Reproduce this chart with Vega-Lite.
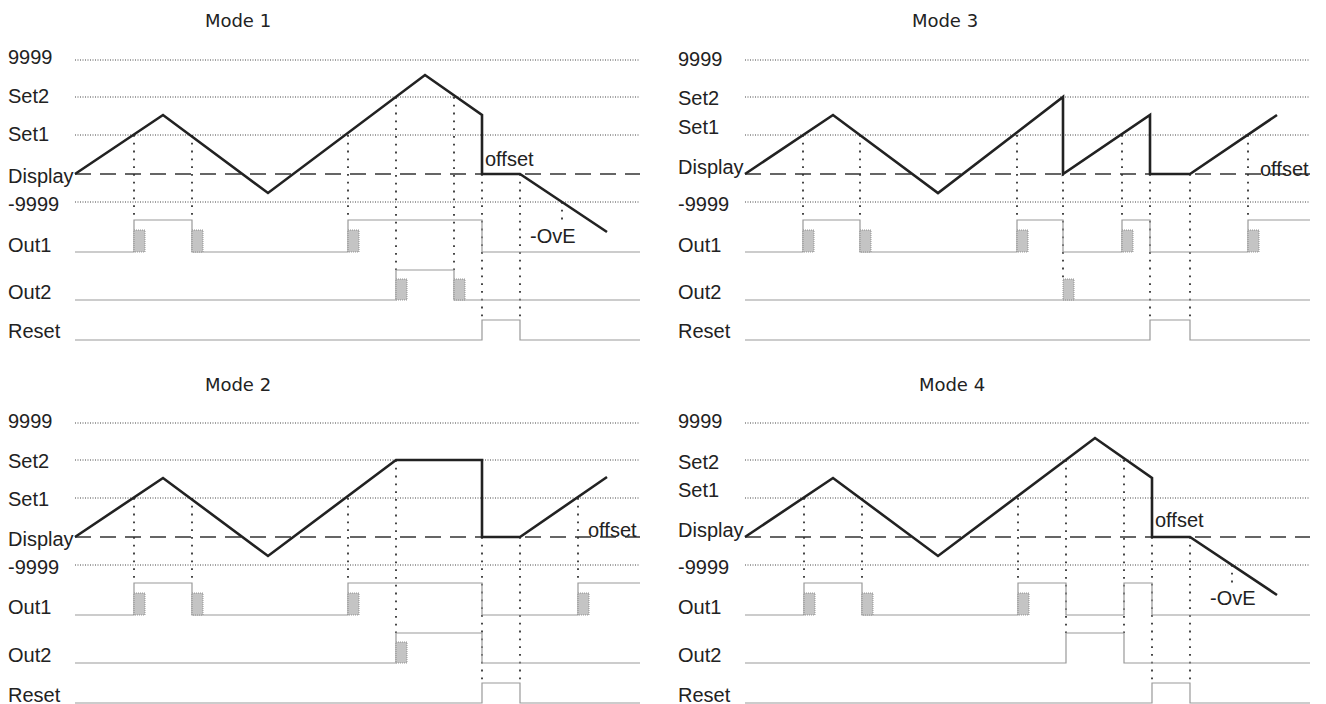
{
"$schema":"https://vega.github.io/schema/vega-lite/v6.json",
"padding":0,
"background":"white",
"config":{"view":{"stroke":null}},
"datasets":{"d":[
{"p":"Mode 1","k":"lv","x":0,"x2":565,"y":114},{"p":"Mode 1","k":"lv","x":0,"x2":565,"y":77},{"p":"Mode 1","k":"lv","x":0,"x2":565,"y":39},{"p":"Mode 1","k":"lv","x":0,"x2":565,"y":-28},
{"p":"Mode 1","k":"d","x":0,"x2":565,"y":0},
{"p":"Mode 1","k":"lab","x":-67,"y":116,"t":"9999"},{"p":"Mode 1","k":"lab","x":-67,"y":77,"t":"Set2"},{"p":"Mode 1","k":"lab","x":-67,"y":39,"t":"Set1"},{"p":"Mode 1","k":"lab","x":-67,"y":-3,"t":"Display"},{"p":"Mode 1","k":"lab","x":-67,"y":-31,"t":"-9999"},{"p":"Mode 1","k":"lab","x":-67,"y":-72,"t":"Out1"},{"p":"Mode 1","k":"lab","x":-67,"y":-119,"t":"Out2"},{"p":"Mode 1","k":"lab","x":-67,"y":-158,"t":"Reset"},
{"p":"Mode 1","k":"ttl","x":163,"y":152,"t":"Mode 1"},
{"p":"Mode 1","k":"ann","x":410,"y":14,"t":"offset"},{"p":"Mode 1","k":"ann","x":455,"y":-63,"t":"-OvE"},
{"p":"Mode 1","k":"w","x":0,"y":0,"o":0},{"p":"Mode 1","k":"w","x":88,"y":59,"o":1},{"p":"Mode 1","k":"w","x":193,"y":-19,"o":2},{"p":"Mode 1","k":"w","x":350,"y":99,"o":3},{"p":"Mode 1","k":"w","x":407,"y":59,"o":4},{"p":"Mode 1","k":"w","x":407,"y":0,"o":5},{"p":"Mode 1","k":"w","x":445,"y":0,"o":6},{"p":"Mode 1","k":"w","x":532,"y":-58,"o":7},
{"p":"Mode 1","k":"s","s":"Out1","x":0,"y":-78,"o":0},{"p":"Mode 1","k":"s","s":"Out1","x":59,"y":-78,"o":1},{"p":"Mode 1","k":"s","s":"Out1","x":59,"y":-46,"o":2},{"p":"Mode 1","k":"s","s":"Out1","x":117,"y":-46,"o":3},{"p":"Mode 1","k":"s","s":"Out1","x":117,"y":-78,"o":4},{"p":"Mode 1","k":"s","s":"Out1","x":273,"y":-78,"o":5},{"p":"Mode 1","k":"s","s":"Out1","x":273,"y":-46,"o":6},{"p":"Mode 1","k":"s","s":"Out1","x":407,"y":-46,"o":7},{"p":"Mode 1","k":"s","s":"Out1","x":407,"y":-78,"o":8},{"p":"Mode 1","k":"s","s":"Out1","x":565,"y":-78,"o":9},
{"p":"Mode 1","k":"s","s":"Out2","x":0,"y":-126,"o":0},{"p":"Mode 1","k":"s","s":"Out2","x":321,"y":-126,"o":1},{"p":"Mode 1","k":"s","s":"Out2","x":321,"y":-96,"o":2},{"p":"Mode 1","k":"s","s":"Out2","x":379,"y":-96,"o":3},{"p":"Mode 1","k":"s","s":"Out2","x":379,"y":-126,"o":4},{"p":"Mode 1","k":"s","s":"Out2","x":565,"y":-126,"o":5},
{"p":"Mode 1","k":"s","s":"Reset","x":0,"y":-166,"o":0},{"p":"Mode 1","k":"s","s":"Reset","x":407,"y":-166,"o":1},{"p":"Mode 1","k":"s","s":"Reset","x":407,"y":-146,"o":2},{"p":"Mode 1","k":"s","s":"Reset","x":445,"y":-146,"o":3},{"p":"Mode 1","k":"s","s":"Reset","x":445,"y":-166,"o":4},{"p":"Mode 1","k":"s","s":"Reset","x":565,"y":-166,"o":5},
{"p":"Mode 1","k":"st","x":59,"x2":70,"y":-78,"y2":-56},{"p":"Mode 1","k":"st","x":117,"x2":128,"y":-78,"y2":-56},{"p":"Mode 1","k":"st","x":273,"x2":284,"y":-78,"y2":-56},{"p":"Mode 1","k":"st","x":321,"x2":332,"y":-126,"y2":-105},{"p":"Mode 1","k":"st","x":379,"x2":390,"y":-126,"y2":-105},
{"p":"Mode 1","k":"v","x":59,"y":39,"y2":-46},{"p":"Mode 1","k":"v","x":117,"y":39,"y2":-46},{"p":"Mode 1","k":"v","x":273,"y":39,"y2":-46},{"p":"Mode 1","k":"v","x":321,"y":77,"y2":-96},{"p":"Mode 1","k":"v","x":379,"y":77,"y2":-96},{"p":"Mode 1","k":"v","x":407,"y":0,"y2":-146},{"p":"Mode 1","k":"v","x":445,"y":0,"y2":-146},{"p":"Mode 1","k":"v","x":487,"y":-28,"y2":-50},

{"p":"Mode 2","k":"lv","x":0,"x2":565,"y":114},{"p":"Mode 2","k":"lv","x":0,"x2":565,"y":77},{"p":"Mode 2","k":"lv","x":0,"x2":565,"y":39},{"p":"Mode 2","k":"lv","x":0,"x2":565,"y":-28},
{"p":"Mode 2","k":"d","x":0,"x2":565,"y":0},
{"p":"Mode 2","k":"lab","x":-67,"y":115,"t":"9999"},{"p":"Mode 2","k":"lab","x":-67,"y":75,"t":"Set2"},{"p":"Mode 2","k":"lab","x":-67,"y":37,"t":"Set1"},{"p":"Mode 2","k":"lab","x":-67,"y":-3,"t":"Display"},{"p":"Mode 2","k":"lab","x":-67,"y":-31,"t":"-9999"},{"p":"Mode 2","k":"lab","x":-67,"y":-71,"t":"Out1"},{"p":"Mode 2","k":"lab","x":-67,"y":-119,"t":"Out2"},{"p":"Mode 2","k":"lab","x":-67,"y":-159,"t":"Reset"},
{"p":"Mode 2","k":"ttl","x":163,"y":151,"t":"Mode 2"},
{"p":"Mode 2","k":"ann","x":513,"y":6,"t":"offset"},
{"p":"Mode 2","k":"w","x":0,"y":0,"o":0},{"p":"Mode 2","k":"w","x":88,"y":59,"o":1},{"p":"Mode 2","k":"w","x":193,"y":-19,"o":2},{"p":"Mode 2","k":"w","x":321,"y":77,"o":3},{"p":"Mode 2","k":"w","x":407,"y":77,"o":4},{"p":"Mode 2","k":"w","x":407,"y":0,"o":5},{"p":"Mode 2","k":"w","x":445,"y":0,"o":6},{"p":"Mode 2","k":"w","x":532,"y":60,"o":7},
{"p":"Mode 2","k":"s","s":"Out1","x":0,"y":-78,"o":0},{"p":"Mode 2","k":"s","s":"Out1","x":59,"y":-78,"o":1},{"p":"Mode 2","k":"s","s":"Out1","x":59,"y":-46,"o":2},{"p":"Mode 2","k":"s","s":"Out1","x":117,"y":-46,"o":3},{"p":"Mode 2","k":"s","s":"Out1","x":117,"y":-78,"o":4},{"p":"Mode 2","k":"s","s":"Out1","x":273,"y":-78,"o":5},{"p":"Mode 2","k":"s","s":"Out1","x":273,"y":-46,"o":6},{"p":"Mode 2","k":"s","s":"Out1","x":407,"y":-46,"o":7},{"p":"Mode 2","k":"s","s":"Out1","x":407,"y":-78,"o":8},{"p":"Mode 2","k":"s","s":"Out1","x":503,"y":-78,"o":9},{"p":"Mode 2","k":"s","s":"Out1","x":503,"y":-46,"o":10},{"p":"Mode 2","k":"s","s":"Out1","x":565,"y":-46,"o":11},
{"p":"Mode 2","k":"s","s":"Out2","x":0,"y":-126,"o":0},{"p":"Mode 2","k":"s","s":"Out2","x":321,"y":-126,"o":1},{"p":"Mode 2","k":"s","s":"Out2","x":321,"y":-96,"o":2},{"p":"Mode 2","k":"s","s":"Out2","x":407,"y":-96,"o":3},{"p":"Mode 2","k":"s","s":"Out2","x":407,"y":-126,"o":4},{"p":"Mode 2","k":"s","s":"Out2","x":565,"y":-126,"o":5},
{"p":"Mode 2","k":"s","s":"Reset","x":0,"y":-166,"o":0},{"p":"Mode 2","k":"s","s":"Reset","x":407,"y":-166,"o":1},{"p":"Mode 2","k":"s","s":"Reset","x":407,"y":-146,"o":2},{"p":"Mode 2","k":"s","s":"Reset","x":445,"y":-146,"o":3},{"p":"Mode 2","k":"s","s":"Reset","x":445,"y":-166,"o":4},{"p":"Mode 2","k":"s","s":"Reset","x":565,"y":-166,"o":5},
{"p":"Mode 2","k":"st","x":59,"x2":70,"y":-78,"y2":-56},{"p":"Mode 2","k":"st","x":117,"x2":128,"y":-78,"y2":-56},{"p":"Mode 2","k":"st","x":273,"x2":284,"y":-78,"y2":-56},{"p":"Mode 2","k":"st","x":503,"x2":514,"y":-78,"y2":-56},{"p":"Mode 2","k":"st","x":321,"x2":332,"y":-126,"y2":-105},
{"p":"Mode 2","k":"v","x":59,"y":39,"y2":-46},{"p":"Mode 2","k":"v","x":117,"y":39,"y2":-46},{"p":"Mode 2","k":"v","x":273,"y":39,"y2":-46},{"p":"Mode 2","k":"v","x":321,"y":77,"y2":-96},{"p":"Mode 2","k":"v","x":407,"y":0,"y2":-146},{"p":"Mode 2","k":"v","x":445,"y":0,"y2":-146},{"p":"Mode 2","k":"v","x":503,"y":39,"y2":-46},

{"p":"Mode 3","k":"lv","x":0,"x2":565,"y":114},{"p":"Mode 3","k":"lv","x":0,"x2":565,"y":77},{"p":"Mode 3","k":"lv","x":0,"x2":565,"y":39},{"p":"Mode 3","k":"lv","x":0,"x2":565,"y":-28},
{"p":"Mode 3","k":"d","x":0,"x2":565,"y":0},
{"p":"Mode 3","k":"lab","x":-67,"y":114,"t":"9999"},{"p":"Mode 3","k":"lab","x":-67,"y":75,"t":"Set2"},{"p":"Mode 3","k":"lab","x":-67,"y":46,"t":"Set1"},{"p":"Mode 3","k":"lab","x":-67,"y":6,"t":"Display"},{"p":"Mode 3","k":"lab","x":-67,"y":-31,"t":"-9999"},{"p":"Mode 3","k":"lab","x":-67,"y":-72,"t":"Out1"},{"p":"Mode 3","k":"lab","x":-67,"y":-119,"t":"Out2"},{"p":"Mode 3","k":"lab","x":-67,"y":-158,"t":"Reset"},
{"p":"Mode 3","k":"ttl","x":200,"y":152,"t":"Mode 3"},
{"p":"Mode 3","k":"ann","x":515,"y":4,"t":"offset"},
{"p":"Mode 3","k":"w","x":0,"y":0,"o":0},{"p":"Mode 3","k":"w","x":88,"y":59,"o":1},{"p":"Mode 3","k":"w","x":193,"y":-19,"o":2},{"p":"Mode 3","k":"w","x":318,"y":77,"o":3},{"p":"Mode 3","k":"w","x":318,"y":0,"o":4},{"p":"Mode 3","k":"w","x":405,"y":59,"o":5},{"p":"Mode 3","k":"w","x":405,"y":0,"o":6},{"p":"Mode 3","k":"w","x":445,"y":0,"o":7},{"p":"Mode 3","k":"w","x":532,"y":59,"o":8},
{"p":"Mode 3","k":"s","s":"Out1","x":0,"y":-78,"o":0},{"p":"Mode 3","k":"s","s":"Out1","x":58,"y":-78,"o":1},{"p":"Mode 3","k":"s","s":"Out1","x":58,"y":-46,"o":2},{"p":"Mode 3","k":"s","s":"Out1","x":115,"y":-46,"o":3},{"p":"Mode 3","k":"s","s":"Out1","x":115,"y":-78,"o":4},{"p":"Mode 3","k":"s","s":"Out1","x":272,"y":-78,"o":5},{"p":"Mode 3","k":"s","s":"Out1","x":272,"y":-46,"o":6},{"p":"Mode 3","k":"s","s":"Out1","x":318,"y":-46,"o":7},{"p":"Mode 3","k":"s","s":"Out1","x":318,"y":-78,"o":8},{"p":"Mode 3","k":"s","s":"Out1","x":377,"y":-78,"o":9},{"p":"Mode 3","k":"s","s":"Out1","x":377,"y":-46,"o":10},{"p":"Mode 3","k":"s","s":"Out1","x":405,"y":-46,"o":11},{"p":"Mode 3","k":"s","s":"Out1","x":405,"y":-78,"o":12},{"p":"Mode 3","k":"s","s":"Out1","x":503,"y":-78,"o":13},{"p":"Mode 3","k":"s","s":"Out1","x":503,"y":-46,"o":14},{"p":"Mode 3","k":"s","s":"Out1","x":565,"y":-46,"o":15},
{"p":"Mode 3","k":"s","s":"Out2","x":0,"y":-126,"o":0},{"p":"Mode 3","k":"s","s":"Out2","x":565,"y":-126,"o":1},
{"p":"Mode 3","k":"s","s":"Reset","x":0,"y":-166,"o":0},{"p":"Mode 3","k":"s","s":"Reset","x":405,"y":-166,"o":1},{"p":"Mode 3","k":"s","s":"Reset","x":405,"y":-146,"o":2},{"p":"Mode 3","k":"s","s":"Reset","x":445,"y":-146,"o":3},{"p":"Mode 3","k":"s","s":"Reset","x":445,"y":-166,"o":4},{"p":"Mode 3","k":"s","s":"Reset","x":565,"y":-166,"o":5},
{"p":"Mode 3","k":"st","x":58,"x2":69,"y":-78,"y2":-56},{"p":"Mode 3","k":"st","x":115,"x2":126,"y":-78,"y2":-56},{"p":"Mode 3","k":"st","x":272,"x2":283,"y":-78,"y2":-56},{"p":"Mode 3","k":"st","x":377,"x2":388,"y":-78,"y2":-56},{"p":"Mode 3","k":"st","x":503,"x2":514,"y":-78,"y2":-56},{"p":"Mode 3","k":"st","x":318,"x2":329,"y":-126,"y2":-105},
{"p":"Mode 3","k":"v","x":58,"y":39,"y2":-46},{"p":"Mode 3","k":"v","x":115,"y":39,"y2":-46},{"p":"Mode 3","k":"v","x":272,"y":39,"y2":-46},{"p":"Mode 3","k":"v","x":318,"y":0,"y2":-105},{"p":"Mode 3","k":"v","x":377,"y":39,"y2":-46},{"p":"Mode 3","k":"v","x":405,"y":0,"y2":-146},{"p":"Mode 3","k":"v","x":445,"y":0,"y2":-146},{"p":"Mode 3","k":"v","x":503,"y":39,"y2":-46},

{"p":"Mode 4","k":"lv","x":0,"x2":565,"y":114},{"p":"Mode 4","k":"lv","x":0,"x2":565,"y":77},{"p":"Mode 4","k":"lv","x":0,"x2":565,"y":39},{"p":"Mode 4","k":"lv","x":0,"x2":565,"y":-28},
{"p":"Mode 4","k":"d","x":0,"x2":565,"y":0},
{"p":"Mode 4","k":"lab","x":-67,"y":115,"t":"9999"},{"p":"Mode 4","k":"lab","x":-67,"y":74,"t":"Set2"},{"p":"Mode 4","k":"lab","x":-67,"y":46,"t":"Set1"},{"p":"Mode 4","k":"lab","x":-67,"y":6,"t":"Display"},{"p":"Mode 4","k":"lab","x":-67,"y":-31,"t":"-9999"},{"p":"Mode 4","k":"lab","x":-67,"y":-71,"t":"Out1"},{"p":"Mode 4","k":"lab","x":-67,"y":-119,"t":"Out2"},{"p":"Mode 4","k":"lab","x":-67,"y":-159,"t":"Reset"},
{"p":"Mode 4","k":"ttl","x":207,"y":151,"t":"Mode 4"},
{"p":"Mode 4","k":"ann","x":410,"y":16,"t":"offset"},{"p":"Mode 4","k":"ann","x":465,"y":-62,"t":"-OvE"},
{"p":"Mode 4","k":"w","x":0,"y":0,"o":0},{"p":"Mode 4","k":"w","x":88,"y":59,"o":1},{"p":"Mode 4","k":"w","x":193,"y":-19,"o":2},{"p":"Mode 4","k":"w","x":350,"y":99,"o":3},{"p":"Mode 4","k":"w","x":407,"y":59,"o":4},{"p":"Mode 4","k":"w","x":407,"y":0,"o":5},{"p":"Mode 4","k":"w","x":445,"y":0,"o":6},{"p":"Mode 4","k":"w","x":532,"y":-58,"o":7},
{"p":"Mode 4","k":"s","s":"Out1","x":0,"y":-78,"o":0},{"p":"Mode 4","k":"s","s":"Out1","x":59,"y":-78,"o":1},{"p":"Mode 4","k":"s","s":"Out1","x":59,"y":-46,"o":2},{"p":"Mode 4","k":"s","s":"Out1","x":117,"y":-46,"o":3},{"p":"Mode 4","k":"s","s":"Out1","x":117,"y":-78,"o":4},{"p":"Mode 4","k":"s","s":"Out1","x":273,"y":-78,"o":5},{"p":"Mode 4","k":"s","s":"Out1","x":273,"y":-46,"o":6},{"p":"Mode 4","k":"s","s":"Out1","x":321,"y":-46,"o":7},{"p":"Mode 4","k":"s","s":"Out1","x":321,"y":-78,"o":8},{"p":"Mode 4","k":"s","s":"Out1","x":379,"y":-78,"o":9},{"p":"Mode 4","k":"s","s":"Out1","x":379,"y":-46,"o":10},{"p":"Mode 4","k":"s","s":"Out1","x":407,"y":-46,"o":11},{"p":"Mode 4","k":"s","s":"Out1","x":407,"y":-78,"o":12},{"p":"Mode 4","k":"s","s":"Out1","x":565,"y":-78,"o":13},
{"p":"Mode 4","k":"s","s":"Out2","x":0,"y":-126,"o":0},{"p":"Mode 4","k":"s","s":"Out2","x":321,"y":-126,"o":1},{"p":"Mode 4","k":"s","s":"Out2","x":321,"y":-96,"o":2},{"p":"Mode 4","k":"s","s":"Out2","x":379,"y":-96,"o":3},{"p":"Mode 4","k":"s","s":"Out2","x":379,"y":-126,"o":4},{"p":"Mode 4","k":"s","s":"Out2","x":565,"y":-126,"o":5},
{"p":"Mode 4","k":"s","s":"Reset","x":0,"y":-166,"o":0},{"p":"Mode 4","k":"s","s":"Reset","x":407,"y":-166,"o":1},{"p":"Mode 4","k":"s","s":"Reset","x":407,"y":-146,"o":2},{"p":"Mode 4","k":"s","s":"Reset","x":445,"y":-146,"o":3},{"p":"Mode 4","k":"s","s":"Reset","x":445,"y":-166,"o":4},{"p":"Mode 4","k":"s","s":"Reset","x":565,"y":-166,"o":5},
{"p":"Mode 4","k":"st","x":59,"x2":70,"y":-78,"y2":-56},{"p":"Mode 4","k":"st","x":117,"x2":128,"y":-78,"y2":-56},{"p":"Mode 4","k":"st","x":273,"x2":284,"y":-78,"y2":-56},
{"p":"Mode 4","k":"v","x":59,"y":39,"y2":-46},{"p":"Mode 4","k":"v","x":117,"y":39,"y2":-46},{"p":"Mode 4","k":"v","x":273,"y":39,"y2":-46},{"p":"Mode 4","k":"v","x":321,"y":77,"y2":-96},{"p":"Mode 4","k":"v","x":379,"y":77,"y2":-96},{"p":"Mode 4","k":"v","x":407,"y":0,"y2":-146},{"p":"Mode 4","k":"v","x":445,"y":0,"y2":-146},{"p":"Mode 4","k":"v","x":487,"y":-28,"y2":-50}
]},
"columns":2,
"spacing":{"row":20,"column":15},
"concat":[
{"data":{"name":"d"},"transform":[{"filter":"datum.p==='Mode 1'"}],"width":655,"height":342,
"layer":[
{"transform":[{"filter":"datum.k==='lv'"}],"mark":{"type":"rule","color":"#444","strokeWidth":1,"strokeDash":[1,1.5]},"encoding":{"x":{"field":"x","type":"quantitative","scale":{"domain":[-75,580],"nice":false,"zero":false},"axis":null},"x2":{"field":"x2"},"y":{"field":"y","type":"quantitative","scale":{"domain":[-168,174],"nice":false,"zero":false},"axis":null}}},
{"transform":[{"filter":"datum.k==='d'"}],"mark":{"type":"rule","color":"#333","strokeWidth":1.6,"strokeDash":[16,9]},"encoding":{"x":{"field":"x","type":"quantitative"},"x2":{"field":"x2"},"y":{"field":"y","type":"quantitative"}}},
{"transform":[{"filter":"datum.k==='v'"}],"mark":{"type":"rule","color":"#333","strokeWidth":1.8,"strokeDash":[1.8,6]},"encoding":{"x":{"field":"x","type":"quantitative"},"y":{"field":"y","type":"quantitative"},"y2":{"field":"y2"}}},
{"transform":[{"filter":"datum.k==='s'"}],"mark":{"type":"line","color":"#999","strokeWidth":1.2},"encoding":{"x":{"field":"x","type":"quantitative"},"y":{"field":"y","type":"quantitative"},"detail":{"field":"s"},"order":{"field":"o","type":"quantitative"}}},
{"transform":[{"filter":"datum.k==='st'"}],"mark":{"type":"rect","fill":"#c4c4c4","stroke":"#808080","strokeWidth":0.8,"strokeDash":[1,1]},"encoding":{"x":{"field":"x","type":"quantitative"},"x2":{"field":"x2"},"y":{"field":"y","type":"quantitative"},"y2":{"field":"y2"}}},
{"transform":[{"filter":"datum.k==='w'"}],"mark":{"type":"line","color":"#222","strokeWidth":2.6,"strokeJoin":"miter"},"encoding":{"x":{"field":"x","type":"quantitative"},"y":{"field":"y","type":"quantitative"},"order":{"field":"o","type":"quantitative"}}},
{"transform":[{"filter":"datum.k==='lab' || datum.k==='ann'"}],"mark":{"type":"text","align":"left","baseline":"middle","font":"Liberation Sans","fontSize":20,"color":"#222"},"encoding":{"x":{"field":"x","type":"quantitative"},"y":{"field":"y","type":"quantitative"},"text":{"field":"t"}}},
{"transform":[{"filter":"datum.k==='ttl'"}],"mark":{"type":"text","align":"center","baseline":"middle","font":"DejaVu Sans","fontSize":18,"color":"#222"},"encoding":{"x":{"field":"x","type":"quantitative"},"y":{"field":"y","type":"quantitative"},"text":{"field":"t"}}}
]},
{"data":{"name":"d"},"transform":[{"filter":"datum.p==='Mode 3'"}],"width":655,"height":342,
"layer":[
{"transform":[{"filter":"datum.k==='lv'"}],"mark":{"type":"rule","color":"#444","strokeWidth":1,"strokeDash":[1,1.5]},"encoding":{"x":{"field":"x","type":"quantitative","scale":{"domain":[-75,580],"nice":false,"zero":false},"axis":null},"x2":{"field":"x2"},"y":{"field":"y","type":"quantitative","scale":{"domain":[-168,174],"nice":false,"zero":false},"axis":null}}},
{"transform":[{"filter":"datum.k==='d'"}],"mark":{"type":"rule","color":"#333","strokeWidth":1.6,"strokeDash":[16,9]},"encoding":{"x":{"field":"x","type":"quantitative"},"x2":{"field":"x2"},"y":{"field":"y","type":"quantitative"}}},
{"transform":[{"filter":"datum.k==='v'"}],"mark":{"type":"rule","color":"#333","strokeWidth":1.8,"strokeDash":[1.8,6]},"encoding":{"x":{"field":"x","type":"quantitative"},"y":{"field":"y","type":"quantitative"},"y2":{"field":"y2"}}},
{"transform":[{"filter":"datum.k==='s'"}],"mark":{"type":"line","color":"#999","strokeWidth":1.2},"encoding":{"x":{"field":"x","type":"quantitative"},"y":{"field":"y","type":"quantitative"},"detail":{"field":"s"},"order":{"field":"o","type":"quantitative"}}},
{"transform":[{"filter":"datum.k==='st'"}],"mark":{"type":"rect","fill":"#c4c4c4","stroke":"#808080","strokeWidth":0.8,"strokeDash":[1,1]},"encoding":{"x":{"field":"x","type":"quantitative"},"x2":{"field":"x2"},"y":{"field":"y","type":"quantitative"},"y2":{"field":"y2"}}},
{"transform":[{"filter":"datum.k==='w'"}],"mark":{"type":"line","color":"#222","strokeWidth":2.6,"strokeJoin":"miter"},"encoding":{"x":{"field":"x","type":"quantitative"},"y":{"field":"y","type":"quantitative"},"order":{"field":"o","type":"quantitative"}}},
{"transform":[{"filter":"datum.k==='lab' || datum.k==='ann'"}],"mark":{"type":"text","align":"left","baseline":"middle","font":"Liberation Sans","fontSize":20,"color":"#222"},"encoding":{"x":{"field":"x","type":"quantitative"},"y":{"field":"y","type":"quantitative"},"text":{"field":"t"}}},
{"transform":[{"filter":"datum.k==='ttl'"}],"mark":{"type":"text","align":"center","baseline":"middle","font":"DejaVu Sans","fontSize":18,"color":"#222"},"encoding":{"x":{"field":"x","type":"quantitative"},"y":{"field":"y","type":"quantitative"},"text":{"field":"t"}}}
]},
{"data":{"name":"d"},"transform":[{"filter":"datum.p==='Mode 2'"}],"width":655,"height":342,
"layer":[
{"transform":[{"filter":"datum.k==='lv'"}],"mark":{"type":"rule","color":"#444","strokeWidth":1,"strokeDash":[1,1.5]},"encoding":{"x":{"field":"x","type":"quantitative","scale":{"domain":[-75,580],"nice":false,"zero":false},"axis":null},"x2":{"field":"x2"},"y":{"field":"y","type":"quantitative","scale":{"domain":[-168,174],"nice":false,"zero":false},"axis":null}}},
{"transform":[{"filter":"datum.k==='d'"}],"mark":{"type":"rule","color":"#333","strokeWidth":1.6,"strokeDash":[16,9]},"encoding":{"x":{"field":"x","type":"quantitative"},"x2":{"field":"x2"},"y":{"field":"y","type":"quantitative"}}},
{"transform":[{"filter":"datum.k==='v'"}],"mark":{"type":"rule","color":"#333","strokeWidth":1.8,"strokeDash":[1.8,6]},"encoding":{"x":{"field":"x","type":"quantitative"},"y":{"field":"y","type":"quantitative"},"y2":{"field":"y2"}}},
{"transform":[{"filter":"datum.k==='s'"}],"mark":{"type":"line","color":"#999","strokeWidth":1.2},"encoding":{"x":{"field":"x","type":"quantitative"},"y":{"field":"y","type":"quantitative"},"detail":{"field":"s"},"order":{"field":"o","type":"quantitative"}}},
{"transform":[{"filter":"datum.k==='st'"}],"mark":{"type":"rect","fill":"#c4c4c4","stroke":"#808080","strokeWidth":0.8,"strokeDash":[1,1]},"encoding":{"x":{"field":"x","type":"quantitative"},"x2":{"field":"x2"},"y":{"field":"y","type":"quantitative"},"y2":{"field":"y2"}}},
{"transform":[{"filter":"datum.k==='w'"}],"mark":{"type":"line","color":"#222","strokeWidth":2.6,"strokeJoin":"miter"},"encoding":{"x":{"field":"x","type":"quantitative"},"y":{"field":"y","type":"quantitative"},"order":{"field":"o","type":"quantitative"}}},
{"transform":[{"filter":"datum.k==='lab' || datum.k==='ann'"}],"mark":{"type":"text","align":"left","baseline":"middle","font":"Liberation Sans","fontSize":20,"color":"#222"},"encoding":{"x":{"field":"x","type":"quantitative"},"y":{"field":"y","type":"quantitative"},"text":{"field":"t"}}},
{"transform":[{"filter":"datum.k==='ttl'"}],"mark":{"type":"text","align":"center","baseline":"middle","font":"DejaVu Sans","fontSize":18,"color":"#222"},"encoding":{"x":{"field":"x","type":"quantitative"},"y":{"field":"y","type":"quantitative"},"text":{"field":"t"}}}
]},
{"data":{"name":"d"},"transform":[{"filter":"datum.p==='Mode 4'"}],"width":655,"height":342,
"layer":[
{"transform":[{"filter":"datum.k==='lv'"}],"mark":{"type":"rule","color":"#444","strokeWidth":1,"strokeDash":[1,1.5]},"encoding":{"x":{"field":"x","type":"quantitative","scale":{"domain":[-75,580],"nice":false,"zero":false},"axis":null},"x2":{"field":"x2"},"y":{"field":"y","type":"quantitative","scale":{"domain":[-168,174],"nice":false,"zero":false},"axis":null}}},
{"transform":[{"filter":"datum.k==='d'"}],"mark":{"type":"rule","color":"#333","strokeWidth":1.6,"strokeDash":[16,9]},"encoding":{"x":{"field":"x","type":"quantitative"},"x2":{"field":"x2"},"y":{"field":"y","type":"quantitative"}}},
{"transform":[{"filter":"datum.k==='v'"}],"mark":{"type":"rule","color":"#333","strokeWidth":1.8,"strokeDash":[1.8,6]},"encoding":{"x":{"field":"x","type":"quantitative"},"y":{"field":"y","type":"quantitative"},"y2":{"field":"y2"}}},
{"transform":[{"filter":"datum.k==='s'"}],"mark":{"type":"line","color":"#999","strokeWidth":1.2},"encoding":{"x":{"field":"x","type":"quantitative"},"y":{"field":"y","type":"quantitative"},"detail":{"field":"s"},"order":{"field":"o","type":"quantitative"}}},
{"transform":[{"filter":"datum.k==='st'"}],"mark":{"type":"rect","fill":"#c4c4c4","stroke":"#808080","strokeWidth":0.8,"strokeDash":[1,1]},"encoding":{"x":{"field":"x","type":"quantitative"},"x2":{"field":"x2"},"y":{"field":"y","type":"quantitative"},"y2":{"field":"y2"}}},
{"transform":[{"filter":"datum.k==='w'"}],"mark":{"type":"line","color":"#222","strokeWidth":2.6,"strokeJoin":"miter"},"encoding":{"x":{"field":"x","type":"quantitative"},"y":{"field":"y","type":"quantitative"},"order":{"field":"o","type":"quantitative"}}},
{"transform":[{"filter":"datum.k==='lab' || datum.k==='ann'"}],"mark":{"type":"text","align":"left","baseline":"middle","font":"Liberation Sans","fontSize":20,"color":"#222"},"encoding":{"x":{"field":"x","type":"quantitative"},"y":{"field":"y","type":"quantitative"},"text":{"field":"t"}}},
{"transform":[{"filter":"datum.k==='ttl'"}],"mark":{"type":"text","align":"center","baseline":"middle","font":"DejaVu Sans","fontSize":18,"color":"#222"},"encoding":{"x":{"field":"x","type":"quantitative"},"y":{"field":"y","type":"quantitative"},"text":{"field":"t"}}}
]}
]
}
